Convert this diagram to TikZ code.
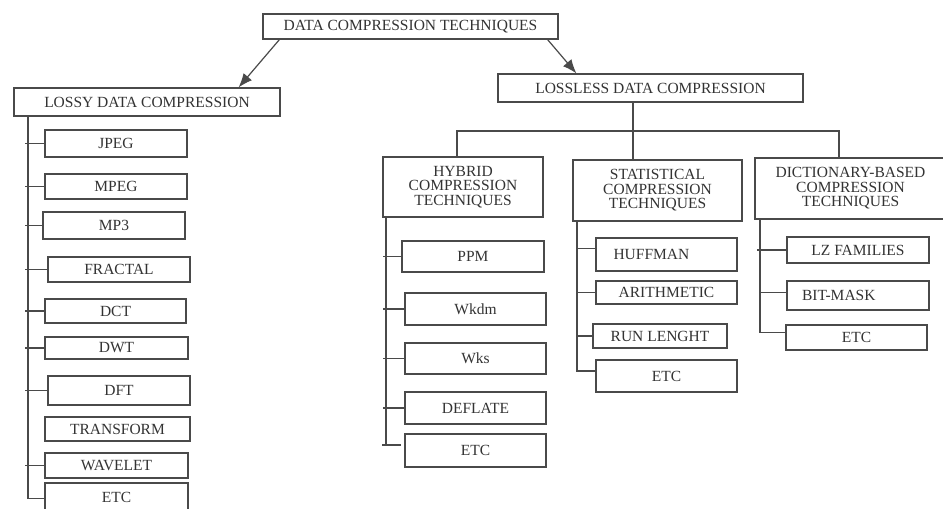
\documentclass[tikz,border=0pt]{standalone}
\usepackage{fontspec}
\setmainfont{Liberation Serif}
\usetikzlibrary{arrows.meta}
\definecolor{linegray}{HTML}{4A4A4A}
\definecolor{textgray}{HTML}{333333}
\tikzset{
  box/.style={draw=linegray, line width=1.2pt, fill=white, inner sep=0pt, align=center,
    text=textgray, font=\fontsize{15.5}{14.5}\selectfont},
  conn/.style={draw=linegray, line width=1.2pt},
  arr/.style={conn, -{Latex[length=14pt,width=11pt]}}
}
\newcommand\placebox[7][]{%
  \node[box, minimum width={(#5-#3)*1pt}, minimum height={(#6-#4)*1pt}, #1]
    (#2) at ({(#3+#5)/2},{(#4+#6)/2}) {#7};}
\begin{document}
\begin{tikzpicture}[x=1pt,y=-1pt]
\useasboundingbox[fill=white] (0,0) rectangle (943,509);
% top level
\placebox{top}{263}{14}{558}{39}{DATA COMPRESSION TECHNIQUES}
\placebox{lossy}{14}{88}{280}{116}{LOSSY DATA COMPRESSION}
\placebox{lossless}{498}{74}{803}{102}{LOSSLESS DATA COMPRESSION}
\draw[arr] ([xshift=17pt]top.south west) -- ([xshift=-42pt]lossy.north east);
\draw[arr] ([xshift=-11pt]top.south east) -- ([xshift=79pt]lossless.north west);
% lossy children
\placebox{jpeg}{45}{130}{187}{157}{JPEG}
\placebox{mpeg}{45}{174}{187}{199}{MPEG}
\placebox{mp3}{43}{212}{185}{239}{MP3}
\placebox{fractal}{48}{257}{190}{282}{FRACTAL}
\placebox{dct}{45}{299}{186}{323}{DCT}
\placebox{dwt}{45}{337}{188}{359}{DWT}
\placebox{dft}{48}{376}{190}{405}{DFT}
\placebox{transform}{45}{417}{190}{441}{TRANSFORM}
\placebox{wavelet}{45}{453}{188}{478}{WAVELET}
\placebox{letc}{45}{483}{188}{512}{ETC}
\coordinate (lt) at (28,116);
\draw[conn] (lt) -- ([yshift=-1pt]lt |- letc.west) -- ([yshift=-1pt]letc.west);
\foreach \n in {jpeg,mpeg,mp3,fractal,dct,dwt,dft,wavelet}
  \draw[conn] ([xshift=-3pt]lt |- \n.west) -- (\n.west);
% lossless bus
\placebox{hybrid}{383}{157}{543}{217}{HYBRID\\COMPRESSION\\TECHNIQUES}
\placebox{stat}{573}{160}{742}{221}{STATISTICAL\\COMPRESSION\\TECHNIQUES}
\placebox{dict}{755}{158}{946}{219}{DICTIONARY-BASED\\COMPRESSION\\TECHNIQUES}
\coordinate (bus) at (633,131);
\coordinate (hd) at (457,131);
\coordinate (dd) at (839,131);
\draw[conn] (lossless.south -| bus) -- (stat.north -| bus);
\draw[conn] (hybrid.north -| hd) -- (hd) -- (dd) -- (dict.north -| dd);
% hybrid children
\placebox{ppm}{402}{241}{544}{272}{PPM}
\placebox{wkdm}{405}{293}{546}{325}{Wkdm}
\placebox{wks}{405}{343}{546}{374}{Wks}
\placebox{deflate}{405}{392}{546}{424}{DEFLATE}
\placebox{hetc}{405}{434}{546}{467}{ETC}
\coordinate (ht) at (386,217);
\draw[conn] (ht) -- ([yshift=5.5pt]ht |- hetc.west);
\draw[conn] ([yshift=5.5pt,xshift=-4pt]ht |- hetc.west) -- ([yshift=5.5pt,xshift=-3pt]hetc.west);
\foreach \n in {ppm,wkdm,wks,deflate}
  \draw[conn] ([xshift=-3pt]ht |- \n.west) -- (\n.west);
% statistical children
\placebox[text width=106pt, inner xsep=17.5pt, align=left]{huff}{596}{238}{737}{271}{HUFFMAN}
\placebox{arith}{596}{281}{737}{304}{ARITHMETIC}
\placebox{run}{593}{324}{727}{348}{RUN LENGHT}
\placebox{setc}{596}{360}{737}{392}{ETC}
\coordinate (st) at (577,221);
\draw[conn] (st) -- ([yshift=5pt]st |- setc.west) -- ([yshift=5pt]setc.west);
\draw[conn] ([yshift=6pt]st |- huff.west) -- ([yshift=6pt]huff.west);
\foreach \n in {arith,run}
  \draw[conn] (st |- \n.west) -- (\n.west);
% dictionary children
\placebox{lz}{787}{237}{929}{263}{LZ FAMILIES}
\placebox[text width=112pt, inner xsep=15pt, align=left]{bit}{787}{281}{929}{310}{BIT-MASK}
\placebox{detc}{786}{325}{927}{350}{ETC}
\coordinate (dt) at (760,219);
\draw[conn] (dt) -- ([yshift=5pt]dt |- detc.west) -- ([yshift=5pt]detc.west);
\draw[conn] ([xshift=-3pt]dt |- lz.west) -- (lz.west);
\draw[conn] ([yshift=3pt]dt |- bit.west) -- ([yshift=3pt]bit.west);
\end{tikzpicture}
\end{document}
